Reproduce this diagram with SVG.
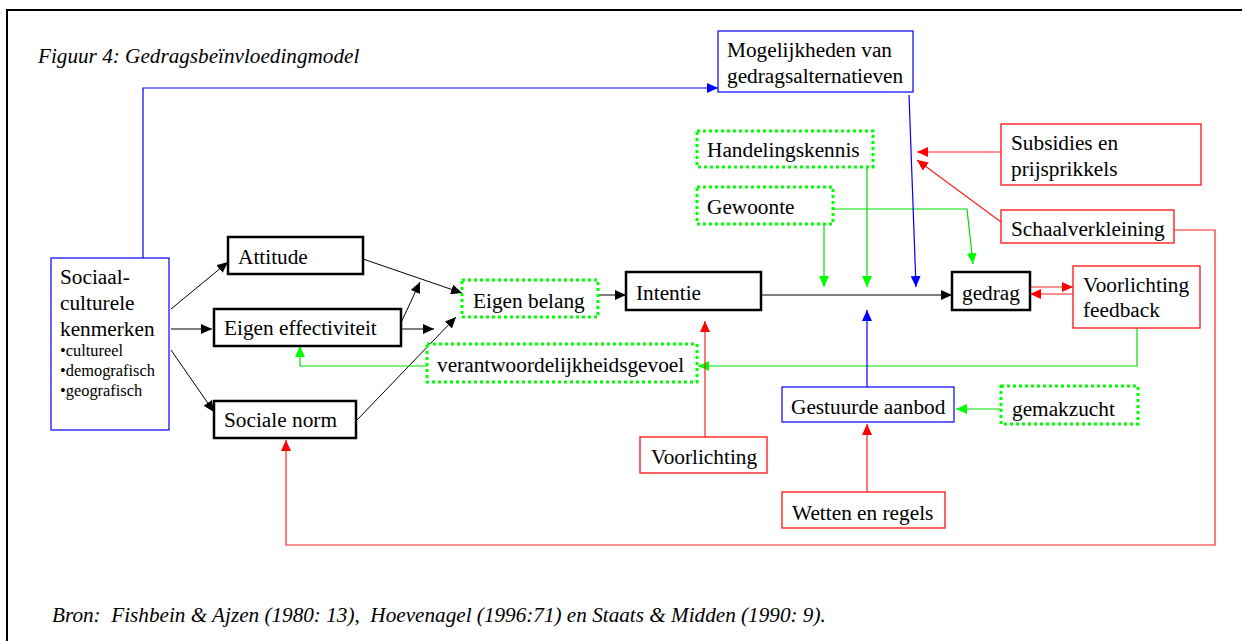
<svg xmlns="http://www.w3.org/2000/svg" width="1242" height="641" viewBox="0 0 1242 641">
<style>
text{font-family:'Liberation Serif','DejaVu Serif',serif;fill:#000;font-size:21.3px}
.s{font-size:16.4px}
.i{font-style:italic;font-size:21.2px}
.blk{fill:#fff;stroke:#000;stroke-width:2.5}
.blu{fill:#fff;stroke:#0000ff;stroke-width:1.2}
.red{fill:#fff;stroke:#ff2020;stroke-width:1.4}
.grn{fill:#fff;stroke:#00ff00;stroke-width:3;stroke-dasharray:3 3}
.cb{fill:none;stroke:#000;stroke-width:1}
.cu{fill:none;stroke:#0000ff;stroke-width:1.2}
.cr{fill:none;stroke:#ff2020;stroke-width:1.2}
.cg{fill:none;stroke:#00e000;stroke-width:1.2}
</style>
<defs>
<marker id="ab" markerUnits="userSpaceOnUse" markerWidth="12" markerHeight="10" refX="11" refY="5" orient="auto"><path d="M0,0 L11,5 L0,10 Z" fill="#000"/></marker>
<marker id="au" markerUnits="userSpaceOnUse" markerWidth="12" markerHeight="10" refX="11" refY="5" orient="auto"><path d="M0,0 L11,5 L0,10 Z" fill="#0000ff"/></marker>
<marker id="ar" markerUnits="userSpaceOnUse" markerWidth="12" markerHeight="10" refX="11" refY="5" orient="auto"><path d="M0,0 L11,5 L0,10 Z" fill="#ff0000"/></marker>
<marker id="ag" markerUnits="userSpaceOnUse" markerWidth="12" markerHeight="10" refX="11" refY="5" orient="auto"><path d="M0,0 L11,5 L0,10 Z" fill="#00ff00"/></marker>
</defs>
<rect x="0" y="0" width="1242" height="641" fill="#fff"/>
<path d="M7,660 L7,10 L1260,10" fill="none" stroke="#000" stroke-width="2"/>
<text class="i" x="38" y="63">Figuur 4: Gedragsbeïnvloedingmodel</text>
<text class="i" x="52" y="622" xml:space="preserve">Bron:  Fishbein &amp; Ajzen (1980: 13),  Hoevenagel (1996:71) en Staats &amp; Midden (1990: 9).</text>

<g id="connectors">
<path class="cu" d="M143,258 L143,88 L718,88" marker-end="url(#au)"/>
<path class="cb" d="M171,309 L228,262" marker-end="url(#ab)"/>
<path class="cb" d="M171,329 L212,329" marker-end="url(#ab)"/>
<path class="cb" d="M171,350 L214,412" marker-end="url(#ab)"/>
<path class="cb" d="M363,259 L462,293" marker-end="url(#ab)"/>
<path class="cb" d="M399,327 L420,282" marker-end="url(#ab)"/>
<path class="cb" d="M401,329 L434,329" marker-end="url(#ab)"/>
<path class="cb" d="M357,420 L456,317" marker-end="url(#ab)"/>
<path class="cb" d="M598,295 L626,295" marker-end="url(#ab)"/>
<path class="cb" d="M761,295 L952,295" marker-end="url(#ab)"/>
<path class="cg" d="M867,167 L867,287" marker-end="url(#ag)"/>
<path class="cg" d="M824,224 L824,287" marker-end="url(#ag)"/>
<path class="cg" d="M833,209 L967,209 L973,264" marker-end="url(#ag)"/>
<path class="cu" d="M909,95 L916,287" marker-end="url(#au)"/>
<path class="cr" d="M1001,152 L917,152" marker-end="url(#ar)"/>
<path class="cr" d="M1001,222 L917,160" marker-end="url(#ar)"/>
<path class="cr" d="M1172,230 L1215,230 L1215,545 L286,545 L286,440" marker-end="url(#ar)"/>
<path class="cr" d="M1030,287 L1073,287" marker-end="url(#ar)"/>
<path class="cr" d="M1073,294 L1030,294" marker-end="url(#ar)"/>
<path class="cg" d="M1137,328 L1137,366 L698,366" marker-end="url(#ag)"/>
<path class="cg" d="M427,366 L300,366 L300,346" marker-end="url(#ag)"/>
<path class="cr" d="M705,437 L705,321" marker-end="url(#ar)"/>
<path class="cu" d="M867,387 L867,310" marker-end="url(#au)"/>
<path class="cg" d="M1001,409 L956,409" marker-end="url(#ag)"/>
<path class="cr" d="M867,492 L867,424" marker-end="url(#ar)"/>
</g>

<g id="mogelijkheden"><rect class="blu" x="718" y="31" width="195" height="61"/><text x="727" y="57">Mogelijkheden van</text><text x="727" y="83">gedragsalternatieven</text></g>
<g id="sociaal"><rect class="blu" x="51" y="258" width="118" height="172"/><text x="60" y="284">Sociaal-</text><text x="60" y="310">culturele</text><text x="60" y="336">kenmerken</text><text class="s" x="60" y="356">•cultureel</text><text class="s" x="60" y="376">•demografisch</text><text class="s" x="60" y="396">•geografisch</text></g>
<g id="attitude"><rect class="blk" x="228" y="237" width="135" height="37"/><text x="238" y="264">Attitude</text></g>
<g id="effectiviteit"><rect class="blk" x="214" y="309" width="187" height="37"/><text x="224" y="335">Eigen effectiviteit</text></g>
<g id="sociale-norm"><rect class="blk" x="214" y="401" width="142" height="37"/><text x="224" y="427">Sociale norm</text></g>
<g id="eigen-belang"><rect class="grn" x="462" y="280" width="136" height="37"/><text x="473" y="308">Eigen belang</text></g>
<g id="intentie"><rect class="blk" x="626" y="272" width="135" height="38"/><text x="636" y="300">Intentie</text></g>
<g id="gedrag"><rect class="blk" x="952" y="272" width="78" height="38"/><text x="962" y="300">gedrag</text></g>
<g id="voorlichting-feedback"><rect class="red" x="1073" y="266" width="127" height="62"/><text x="1083" y="292">Voorlichting</text><text x="1083" y="317">feedback</text></g>
<g id="handelingskennis"><rect class="grn" x="697" y="131" width="176" height="36"/><text x="707" y="157">Handelingskennis</text></g>
<g id="gewoonte"><rect class="grn" x="697" y="187" width="136" height="37"/><text x="707" y="214">Gewoonte</text></g>
<g id="subsidies"><rect class="red" x="1001" y="124" width="200" height="61"/><text x="1011" y="150">Subsidies en</text><text x="1011" y="176">prijsprikkels</text></g>
<g id="schaalverkleining"><rect class="red" x="1001" y="210" width="173" height="33"/><text x="1011" y="236">Schaalverkleining</text></g>
<g id="verantwoordelijkheidsgevoel"><rect class="grn" x="427" y="344" width="270" height="38"/><text x="437" y="372">verantwoordelijkheidsgevoel</text></g>
<g id="voorlichting"><rect class="red" x="640" y="437" width="127" height="36"/><text x="651" y="464">Voorlichting</text></g>
<g id="gestuurde-aanbod"><rect class="blu" x="782" y="387" width="172" height="35"/><text x="791" y="414">Gestuurde aanbod</text></g>
<g id="gemakzucht"><rect class="grn" x="1001" y="386" width="137" height="38"/><text x="1012" y="416">gemakzucht</text></g>
<g id="wetten"><rect class="red" x="782" y="492" width="163" height="36"/><text x="792" y="520">Wetten en regels</text></g>
</svg>
